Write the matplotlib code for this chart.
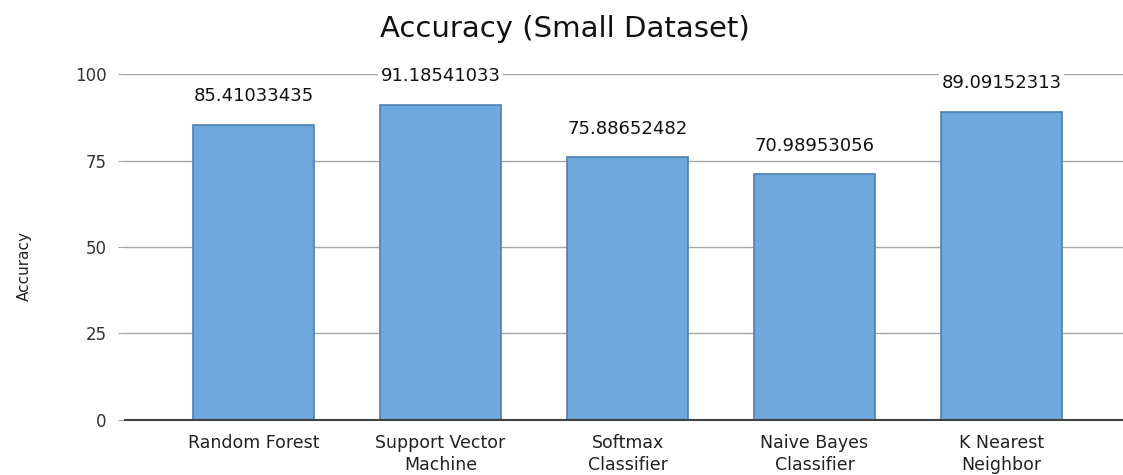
import matplotlib
matplotlib.use("Agg")
import matplotlib.pyplot as plt

categories = ["Random Forest", "Support Vector\nMachine", "Softmax\nClassifier",
              "Naive Bayes\nClassifier", "K Nearest\nNeighbor"]
values = [85.41033435, 91.18541033, 75.88652482, 70.98953056, 89.09152313]
value_labels = ["85.41033435", "91.18541033", "75.88652482", "70.98953056", "89.09152313"]
yticks = [0, 25, 50, 75, 100]

fig = plt.figure(figsize=(11.23, 4.75), dpi=100)
ax = fig.add_axes([0.111, 0.116, 0.889, 0.728])

x = list(range(len(categories)))
ax.bar(x, values, width=0.65, color="#6fa8dc", edgecolor="#4f7fb3", linewidth=1.2, zorder=3)

ax.set_xlim(-0.69, 4.65)
ax.set_ylim(0, 100)
ax.set_yticks(yticks)
ax.yaxis.grid(True, color="#a6a6a6", linewidth=1.0, zorder=0)
ax.set_axisbelow(True)
for s in ["top", "right", "left"]:
    ax.spines[s].set_visible(False)
ax.spines["bottom"].set_color("#404040")
ax.spines["bottom"].set_linewidth(1.5)
ax.spines["bottom"].set_zorder(4)

ax.set_xticks(x)
ax.set_xticklabels(categories, fontsize=12.5, family="DejaVu Sans", color="#222222", linespacing=1.3)
ax.tick_params(axis="x", length=0, pad=10)
ax.tick_params(axis="y", length=5, color="#a6a6a6", labelsize=12, labelcolor="#333333", pad=8)
for t in ax.get_yticklabels():
    t.set_family("DejaVu Sans")

for xi, v, lab in zip(x, values, value_labels):
    ax.annotate(lab, (xi, v), xytext=(0, 20.5), textcoords="offset points", ha="center", va="center",
                fontsize=13, color="#111111", family="DejaVu Sans",
                bbox=dict(boxstyle="square,pad=0.15", facecolor="white", edgecolor="none"),
                zorder=5, annotation_clip=False)

fig.text(0.022, 0.44, "Accuracy", rotation=90, ha="center", va="center", fontsize=11,
         family=["Liberation Sans Narrow", "DejaVu Sans"], color="#222222")

fig.text(0.503, 0.922, "Accuracy (Small Dataset)", ha="center", va="baseline", fontsize=21,
         family="DejaVu Sans", color="#111111")

fig.savefig("out.png", dpi=100, facecolor="white")
